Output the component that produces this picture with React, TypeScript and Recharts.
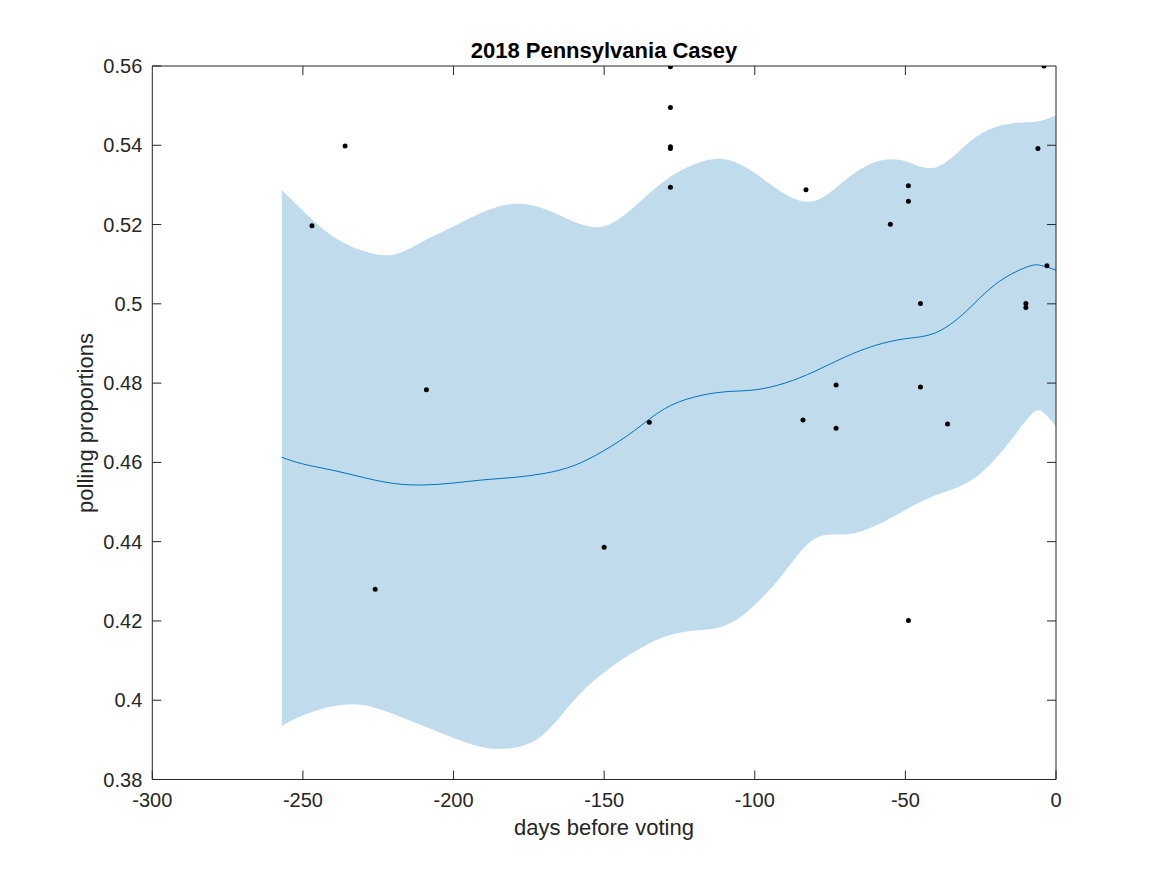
import React from "react";
import {
  ComposedChart,
  Area,
  Line,
  Scatter,
  XAxis,
  YAxis,
} from "recharts";

// confidence band + fitted mean (days before voting)
const BAND_DAYS = [
  -257, -250, -240, -230, -220, -210, -200, -190, -180, -170, -160, -150, -140, -130,
  -120, -110, -100, -90, -80, -70, -60, -50, -40, -30, -20, -10, -5, 0,
];
const BAND_UPPER = [
  0.5287, 0.5235, 0.517, 0.5134, 0.5124, 0.5158, 0.5195, 0.5232, 0.5252, 0.524, 0.5207,
  0.5196, 0.5245, 0.531, 0.5352, 0.5365, 0.533, 0.5277, 0.526, 0.5312, 0.5358, 0.536,
  0.5344, 0.54, 0.5446, 0.5458, 0.5462, 0.5476,
];
const BAND_LOWER = [
  0.3935, 0.3962, 0.3985, 0.3988, 0.3965, 0.3935, 0.3905, 0.3881, 0.388, 0.3915, 0.4,
  0.407, 0.4122, 0.416, 0.4176, 0.4188, 0.424, 0.4325, 0.4408, 0.4418, 0.444, 0.448,
  0.4517, 0.4547, 0.461, 0.4705, 0.473, 0.469,
];
const BAND_MEAN = [
  0.4613, 0.4596, 0.458, 0.4562, 0.4547, 0.4543, 0.4548, 0.4556, 0.4562, 0.4572, 0.4592,
  0.463, 0.468, 0.4735, 0.4765, 0.4778, 0.4783, 0.48, 0.483, 0.4866, 0.4895, 0.4912,
  0.4927, 0.498, 0.505, 0.5092, 0.5097, 0.5085,
];

// individual polls
const POLL_DAYS = [
  -247, -236, -226, -209, -150, -135, -128, -128, -128, -128, -128, -84, -83, -73, -73,
  -55, -49, -49, -49, -45, -45, -36, -10, -10, -6, -4, -3,
];
const POLL_VALUES = [
  0.5197, 0.5398, 0.428, 0.4783, 0.4386, 0.4701, 0.5598, 0.5495, 0.5392, 0.5396, 0.5294,
  0.4707, 0.5288, 0.4795, 0.4686, 0.5201, 0.5298, 0.5259, 0.4201, 0.5001, 0.479, 0.4697,
  0.5001, 0.4991, 0.5392, 0.56, 0.5096,
];

const X_TICKS = [-300, -250, -200, -150, -100, -50, 0];
const Y_TICKS = [0.38, 0.4, 0.42, 0.44, 0.46, 0.48, 0.5, 0.52, 0.54, 0.56];

const bandRows = BAND_DAYS.map((day, i) => ({
  day,
  range: [BAND_LOWER[i], BAND_UPPER[i]],
  mean: BAND_MEAN[i],
}));
const pollRows = POLL_DAYS.map((day, i) => ({ day, value: POLL_VALUES[i] }));

const W = 1151;
const H = 850;
const INK = "#262626";
const FONT = "'Liberation Sans', Arial, Helvetica, sans-serif";
const TICK_LEN = 9;

const BottomTick = ({ x, y, payload }: any) => (
  <g>
    <line x1={x} x2={x} y1={y} y2={y - TICK_LEN} stroke={INK} />
    <text x={x} y={y + 27} textAnchor="middle" fill={INK} fontSize={20} fontFamily={FONT}>
      {payload.value}
    </text>
  </g>
);

const LeftTick = ({ x, y, payload }: any) => (
  <g>
    <line x1={x} x2={x + TICK_LEN} y1={y} y2={y} stroke={INK} />
    <text x={x - 10} y={y + 7} textAnchor="end" fill={INK} fontSize={20} fontFamily={FONT}>
      {String(payload.value)}
    </text>
  </g>
);

const TopTick = ({ x, y }: any) => (
  <line x1={x} x2={x} y1={y} y2={y + TICK_LEN} stroke={INK} />
);

const RightTick = ({ x, y }: any) => (
  <line x1={x} x2={x - TICK_LEN} y1={y} y2={y} stroke={INK} />
);

const Dot = ({ cx, cy }: any) => <circle cx={cx} cy={cy} r={2.5} fill="#000" />;

export default function App() {
  return (
    <div style={{ position: "relative", width: W, height: H, background: "#fff" }}>
      <ComposedChart
        width={W}
        height={H}
        data={bandRows}
        margin={{ top: 57, right: 102, bottom: 18.5, left: 64.3 }}
      >
        <XAxis
          dataKey="day"
          type="number"
          domain={[-300, 0]}
          ticks={X_TICKS}
          allowDataOverflow
          height={60}
          tickSize={0}
          tickMargin={0}
          tickLine={false}
          axisLine={{ stroke: INK }}
          tick={<BottomTick />}
          interval={0}
        />
        <XAxis
          xAxisId="top"
          orientation="top"
          dataKey="day"
          type="number"
          domain={[-300, 0]}
          ticks={X_TICKS.slice(1, -1)}
          allowDataOverflow
          height={1}
          tickSize={0}
          tickMargin={0}
          tickLine={false}
          axisLine={{ stroke: INK }}
          tick={<TopTick />}
          interval={0}
        />
        <YAxis
          type="number"
          domain={[0.38, 0.56]}
          ticks={Y_TICKS}
          allowDataOverflow
          width={80}
          tickSize={0}
          tickMargin={0}
          tickLine={false}
          axisLine={{ stroke: INK }}
          tick={<LeftTick />}
          interval={0}
        />
        <YAxis
          yAxisId="right"
          orientation="right"
          type="number"
          domain={[0.38, 0.56]}
          ticks={Y_TICKS.slice(1, -1)}
          allowDataOverflow
          width={1}
          tickSize={0}
          tickMargin={0}
          tickLine={false}
          axisLine={{ stroke: INK }}
          tick={<RightTick />}
          interval={0}
        />
        <Area
          type="natural"
          dataKey="range"
          stroke="none"
          fill="#c0dcec"
          fillOpacity={1}
          isAnimationActive={false}
        />
        <Line
          type="natural"
          dataKey="mean"
          stroke="#0072bd"
          strokeWidth={1}
          dot={false}
          isAnimationActive={false}
        />
        {/* invisible twin so the top/right frame axes get drawn */}
        <Line
          xAxisId="top"
          yAxisId="right"
          dataKey="mean"
          stroke="none"
          dot={false}
          activeDot={false}
          isAnimationActive={false}
        />
        <Scatter data={pollRows} dataKey="value" shape={<Dot />} isAnimationActive={false} />
      </ComposedChart>
      <svg
        width={W}
        height={H}
        style={{ position: "absolute", left: 0, top: 0, pointerEvents: "none" }}
      >
        <text
          x={596}
          y={49.7}
          textAnchor="middle"
          fontSize={22}
          fontWeight="bold"
          fontFamily={FONT}
          fill="#000"
        >
          2018 Pennsylvania Casey
        </text>
        <text x={596} y={827} textAnchor="middle" fontSize={22} fontFamily={FONT} fill={INK}>
          days before voting
        </text>
        <text
          x={0}
          y={0}
          transform="translate(85,415) rotate(-90)"
          textAnchor="middle"
          fontSize={22}
          fontFamily={FONT}
          fill={INK}
        >
          polling proportions
        </text>
      </svg>
    </div>
  );
}
